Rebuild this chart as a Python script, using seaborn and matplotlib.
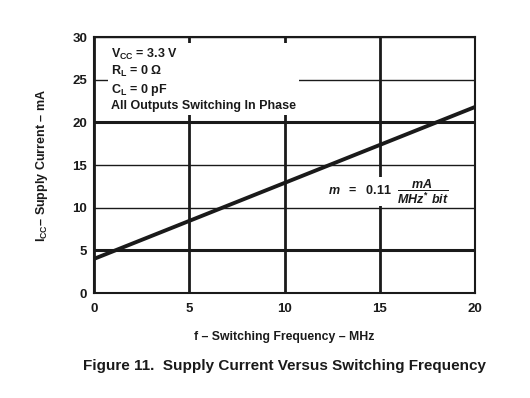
import matplotlib
matplotlib.use("Agg")
import matplotlib.pyplot as plt
import seaborn as sns
import pandas as pd

# values
freq_mhz = [0, 20]
supply_ma = [4.0, 21.8]
x_ticks = [0, 5, 10, 15, 20]
y_ticks = [0, 5, 10, 15, 20, 25, 30]
conditions = [r"$\mathrm{V_{CC}}$ = 3.3 V",
              r"$\mathrm{R_{L}}$ = 0 Ω",
              r"$\mathrm{C_{L}}$ = 0 pF",
              "All Outputs Switching In Phase"]

sns.set_style("white")
plt.rcParams["font.family"] = ["Liberation Sans", "DejaVu Sans"]
plt.rcParams["font.weight"] = "bold"
plt.rcParams["mathtext.fontset"] = "custom"
plt.rcParams["mathtext.rm"] = "Liberation Sans:bold"
plt.rcParams["mathtext.it"] = "Liberation Sans:bold:italic"
plt.rcParams["mathtext.bf"] = "Liberation Sans:bold"

ink = "#1a1a1a"
df = pd.DataFrame({"freq": freq_mhz, "icc": supply_ma})

fig = plt.figure(figsize=(5.3, 3.98), dpi=100)
ax = fig.add_axes([0.1774, 0.2638, 0.7188, 0.6432])

sns.lineplot(data=df, x="freq", y="icc", ax=ax, color=ink, linewidth=2.8, zorder=3)

ax.set_xlim(0, 20)
ax.set_ylim(0, 30)
ax.set_xticks(x_ticks)
ax.set_yticks(y_ticks)
ax.tick_params(length=0, labelsize=9.5, colors=ink)
ax.tick_params(axis="x", pad=7)
ax.tick_params(axis="y", pad=5)
for lbl in ax.get_xticklabels() + ax.get_yticklabels():
    lbl.set_fontweight("bold")

ax.grid(True, color=ink)
for gl, v in zip(ax.get_xgridlines(), x_ticks):
    gl.set_linewidth(2.0)
for gl, v in zip(ax.get_ygridlines(), y_ticks):
    gl.set_linewidth(2.2 if v in (5, 20) else 1.0)
for s in ax.spines.values():
    s.set_color(ink)
    s.set_linewidth(1.5)

ax.set_xlabel("f – Switching Frequency – MHz", fontsize=8.8, fontweight="bold",
              color=ink, labelpad=12)
ax.set_ylabel(r"$\mathrm{I_{CC}}$– Supply Current – mA", fontsize=9,
              fontweight="bold", color=ink, labelpad=16)

ax.text(0.88, 28.9, "\n".join(conditions), fontsize=9, fontweight="bold",
        color=ink, va="top", ha="left", linespacing=1.25, zorder=4,
        bbox=dict(facecolor="white", edgecolor="none", pad=2))

ax.text(12.3, 11.9, r"$\mathit{m}\ \ =\ \ 0.11\ \ \dfrac{\mathit{mA}}{\mathit{MHz^{*}\ bit}}$",
        fontsize=9, color=ink, va="center", ha="left", zorder=4,
        bbox=dict(facecolor="white", edgecolor="none", pad=0))

fig.text(0.537, 0.08, "Figure 11.  Supply Current Versus Switching Frequency",
         fontsize=11, fontweight="bold", color=ink, ha="center", va="center")

fig.savefig("out.png", dpi=100)
